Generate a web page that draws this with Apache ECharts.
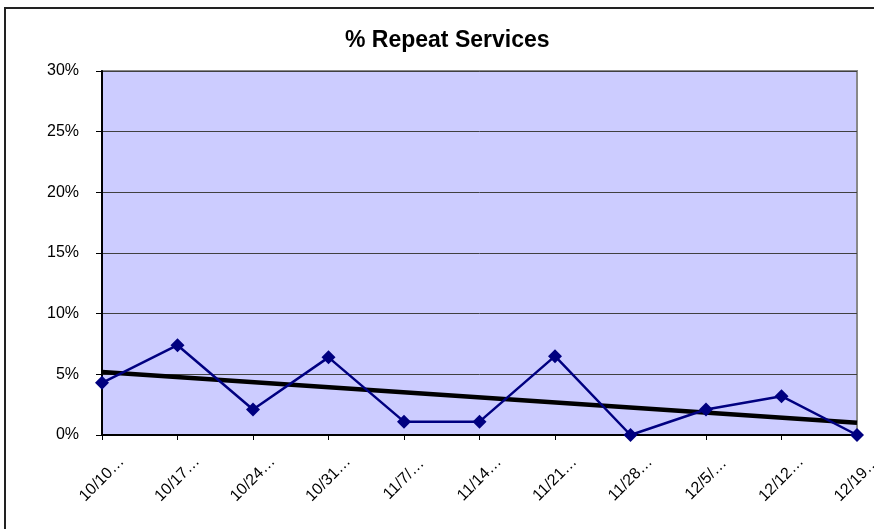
<!DOCTYPE html>
<html>
<head>
<meta charset="utf-8">
<title>% Repeat Services</title>
<script src="https://cdn.jsdelivr.net/npm/echarts@6/dist/echarts.min.js"></script>
<style>
    html, body {
        margin: 0;
        padding: 0;
        background: #fff;
    }
    #repeat-view {
        width: 874px;
        height: 529px;
    }
</style>
</head>
<body>
<div id="repeat-view"></div>
<script>
// 周别（Excel 截断后的标签）
let weekLabels = ['10/10…', '10/17…', '10/24…', '10/31…', '11/7/…', '11/14…', '11/21…', '11/28…', '12/5/…', '12/12…', '12/19…']
// 返修比例 (%)
let repeatValues = [4.3, 7.4, 2.1, 6.4, 1.1, 1.1, 6.5, 0, 2.1, 3.2, 0]
// 趋势线两端读数 (%)
let trendStart = 5.2
let trendEnd = 1.0
// y 轴刻度
let yMin = 0
let yMax = 30
let yStep = 5

let trendValues = weekLabels.map((item, i) => {
    if (i === 0) return trendStart
    if (i === weekLabels.length - 1) return trendEnd
    return null
})

let myChart = echarts.init(document.getElementById('repeat-view'), null, { renderer: 'canvas' })

let fontFamily = 'Arial, "Liberation Sans", sans-serif'

let option = {
    backgroundColor: '#fff',
    animation: false,
    title: {
        text: '% Repeat Services',
        left: 345,
        top: 29,
        padding: 0,
        textStyle: {
            color: '#000',
            fontSize: 23,
            fontWeight: 'bold',
            fontFamily: fontFamily
        }
    },
    graphic: [
        {
            type: 'rect',
            shape: { x: 5, y: 8, width: 900, height: 600 },
            style: { fill: 'none', stroke: '#222', lineWidth: 2 },
            z: 100
        }
    ],
    grid: {
        left: 102,
        right: 17,
        top: 71,
        bottom: 94,
        outerBoundsMode: 'none',
        show: true,
        backgroundColor: '#ccccff',
        borderColor: '#888',
        borderWidth: 2
    },
    xAxis: {
        type: 'category',
        data: weekLabels,
        boundaryGap: false,
        axisLine: {
            lineStyle: { color: '#000', width: 2 }
        },
        axisTick: {
            show: true,
            length: 5,
            lineStyle: { color: '#000' }
        },
        axisLabel: {
            interval: 0,
            rotate: 45,
            align: 'center',
            verticalAlign: 'middle',
            margin: 44,
            hideOverlap: false,
            color: '#000',
            fontSize: 16,
            fontFamily: fontFamily
        },
        splitLine: { show: false }
    },
    yAxis: {
        type: 'value',
        min: yMin,
        max: yMax,
        interval: yStep,
        axisLine: {
            show: true,
            lineStyle: { color: '#000', width: 2 }
        },
        axisTick: {
            show: true,
            length: 6,
            lineStyle: { color: '#000' }
        },
        axisLabel: {
            formatter: '{value}%',
            margin: 23,
            color: '#000',
            fontSize: 16,
            fontFamily: fontFamily
        },
        splitLine: {
            show: true,
            lineStyle: { color: '#404040', width: 1 }
        }
    },
    series: [
        {
            name: '% Repeat Services',
            type: 'line',
            data: repeatValues,
            symbol: 'diamond',
            symbolSize: 14,
            lineStyle: { color: '#000080', width: 2.5 },
            itemStyle: { color: '#000080' },
            z: 3
        },
        {
            name: 'Trend',
            type: 'line',
            data: trendValues,
            connectNulls: true,
            symbol: 'none',
            lineStyle: { color: '#000', width: 4.5 },
            z: 2
        }
    ]
}

if (option && typeof option === 'object') {
    myChart.setOption(option, true)
}
</script>
</body>
</html>
